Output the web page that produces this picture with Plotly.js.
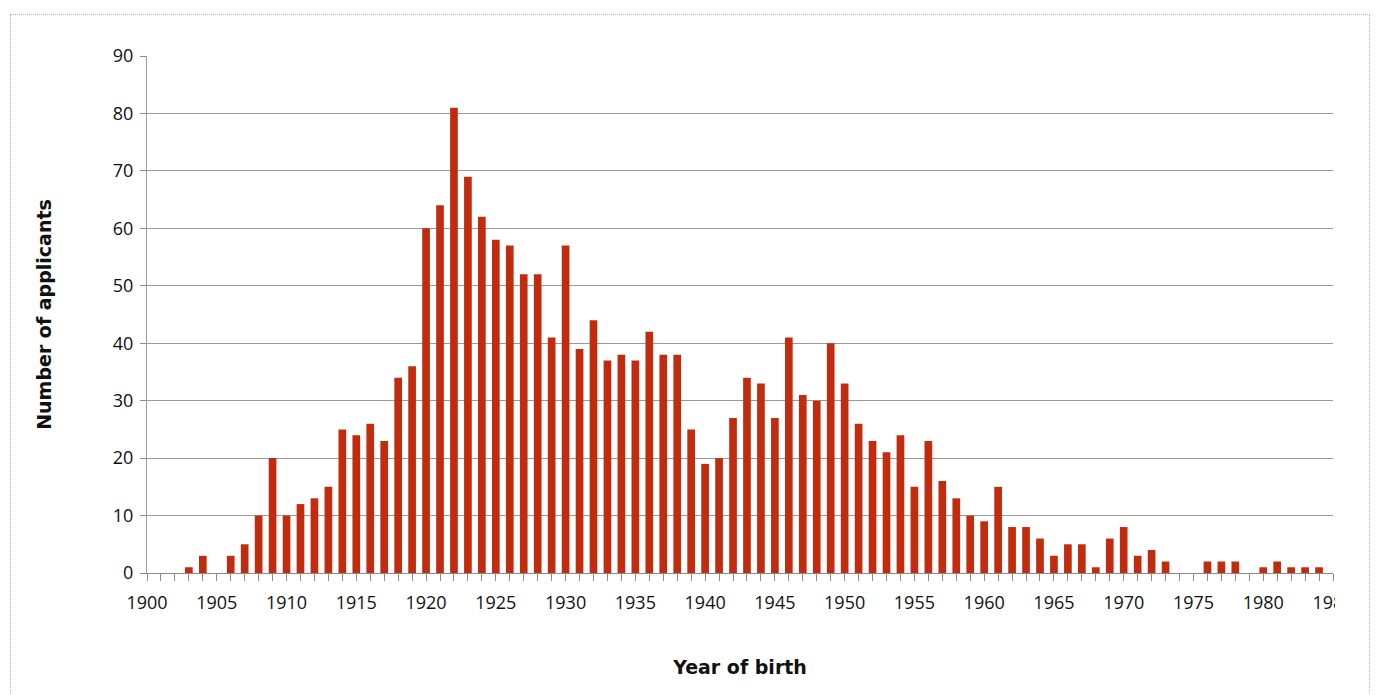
<!DOCTYPE html>
<html>
<head>
<meta charset="utf-8">
<script src="https://cdn.plot.ly/plotly-3.0.1.min.js"></script>
<style>
  html, body { margin: 0; padding: 0; background: #fff; }
  #wrap { position: relative; width: 1376px; height: 695px; overflow: hidden; }
  #chart { position: absolute; left: 0; top: 0; width: 1376px; height: 695px; }
  #frame { position: absolute; left: 10px; top: 14px; width: 1358px; height: 700px;
           border: 1px dotted #b4b4b4; pointer-events: none; }
  #clip { position: absolute; left: 1335px; top: 586px; width: 32px; height: 34px; background: #fff; }
</style>
</head>
<body>
<div id="wrap">
  <div id="chart"></div>
  <div id="clip"></div>
  <div id="frame"></div>
</div>
<script>
const years = [1900,1901,1902,1903,1904,1905,1906,1907,1908,1909,
               1910,1911,1912,1913,1914,1915,1916,1917,1918,1919,
               1920,1921,1922,1923,1924,1925,1926,1927,1928,1929,
               1930,1931,1932,1933,1934,1935,1936,1937,1938,1939,
               1940,1941,1942,1943,1944,1945,1946,1947,1948,1949,
               1950,1951,1952,1953,1954,1955,1956,1957,1958,1959,
               1960,1961,1962,1963,1964,1965,1966,1967,1968,1969,
               1970,1971,1972,1973,1974,1975,1976,1977,1978,1979,
               1980,1981,1982,1983,1984];
const applicants = [0,0,0,1,3,0,3,5,10,20,
                    10,12,13,15,25,24,26,23,34,36,
                    60,64,81,69,62,58,57,52,52,41,
                    57,39,44,37,38,37,42,38,38,25,
                    19,20,27,34,33,27,41,31,30,40,
                    33,26,23,21,24,15,23,16,13,10,
                    9,15,8,8,6,3,5,5,1,6,
                    8,3,4,2,0,0,2,2,2,0,
                    1,2,1,1,1];
const xTickVals = [1900,1905,1910,1915,1920,1925,1930,1935,1940,1945,1950,1955,1960,1965,1970,1975,1980,1985];
const xTickText = ['1900','1905','1910','1915','1920','1925','1930','1935','1940','1945','1950','1955','1960','1965','1970','1975','1980','1985'];
const yTickVals = [0,10,20,30,40,50,60,70,80,90];

const trace = {
  type: 'bar',
  x: years,
  y: applicants,
  width: 0.55,
  marker: { color: '#c12b0e', line: { width: 0 } },
  hoverinfo: 'x+y'
};

const layout = {
  width: 1376,
  height: 695,
  paper_bgcolor: 'rgba(0,0,0,0)',
  plot_bgcolor: '#ffffff',
  margin: { l: 147, r: 43, t: 56, b: 121.5, autoexpand: false },
  showlegend: false,
  font: { family: '"Open Sans", "Noto Sans", sans-serif', size: 18, color: '#111' },
  xaxis: {
    range: [1900, 1985],
    tickmode: 'array',
    tickvals: xTickVals,
    ticktext: xTickText,
    ticks: 'outside',
    ticklen: 7,
    tickcolor: '#8a8a8a',
    tickwidth: 1,
    ticklabelstandoff: 6,
    minor: { tickmode: 'linear', tick0: 1900, dtick: 1, ticks: 'outside', ticklen: 7, tickcolor: '#8a8a8a', showgrid: false },
    showgrid: false,
    zeroline: false,
    showline: true,
    linecolor: '#8a8a8a',
    linewidth: 1,
    tickfont: { size: 18, color: '#111' },
    automargin: false,
    title: { text: 'Year of birth', font: { family: '"DejaVu Sans", sans-serif', size: 19, color: '#111', weight: 'bold' }, standoff: 48 }
  },
  yaxis: {
    range: [0, 90],
    tickmode: 'array',
    tickvals: yTickVals,
    ticks: 'outside',
    ticklen: 6,
    tickcolor: '#8a8a8a',
    ticklabelstandoff: 3,
    showgrid: true,
    gridcolor: '#9a9a9a',
    gridwidth: 1,
    zeroline: false,
    showline: true,
    linecolor: '#9a9a9a',
    linewidth: 1,
    tickfont: { size: 18, color: '#111' },
    automargin: false,
    title: { text: 'Number of applicants', font: { family: '"DejaVu Sans", sans-serif', size: 19, color: '#111', weight: 'bold' }, standoff: 56 }
  }
};

Plotly.newPlot('chart', [trace], layout, { displayModeBar: false, staticPlot: true });
</script>
</body>
</html>
